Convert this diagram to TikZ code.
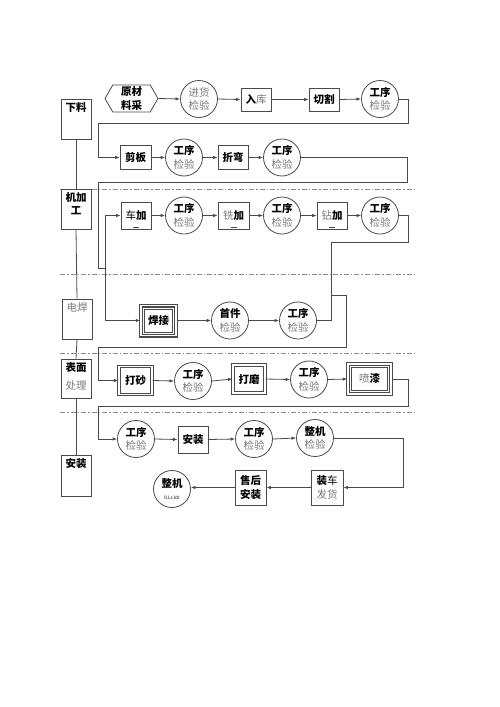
\documentclass[tikz,border=0pt]{standalone}
\usepackage{fontspec}
\setmainfont{Noto Sans CJK SC}
\usetikzlibrary{arrows.meta,shapes.symbols}
\definecolor{lncol}{HTML}{4A4A4A}
\definecolor{txgray}{HTML}{7A7A7A}
\definecolor{dashcol}{HTML}{8C8C8C}
\newcommand\gtx[1]{\textcolor{txgray}{#1}}
\newcommand\btx[1]{\textbf{#1}}
\begin{document}
\begin{tikzpicture}[x=1pt,y=-1pt,
  every node/.style={font=\fontsize{10.5}{13.5}\selectfont, align=center, inner sep=0pt},
  ln/.style={draw=lncol, line width=0.8pt},
  arr/.style={ln, -{Latex[length=4.5pt,width=3.5pt]}},
  box/.style={ln, rectangle, fill=white, minimum width=30pt, minimum height=24pt},
  circ/.style={ln, circle, fill=white, minimum size=37pt},
  lbox/.style={ln, rectangle, fill=white, minimum width=30pt, minimum height=40pt},
  lbl/.style={anchor=north, yshift=-3.5pt},
  sep/.style={draw=dashcol, line width=0.8pt, dash pattern=on 5pt off 2pt on 1.5pt off 2pt},
  dblbox/.style={box, line width=1.1pt, double=white, double distance=1.1pt},
  trpbox/.style={box, line width=1.4pt, double=white, double distance=1.2pt},
  inner/.style={draw=lncol, line width=0.6pt},
]
\useasboundingbox (0,0) rectangle (500,707);

% separators
\draw[sep] (60,189) -- (415,189);
\draw[sep] (60,274.5) -- (415,274.5);
\draw[sep] (60,353) -- (415,353);
\draw[sep] (60,412.5) -- (415,412.5);

% left column
\node[lbox, label={[lbl]north:\btx{下料}}] (L1) at (76,119) {};
\node[lbox, label={[lbl]north:{\btx{机加}\\\btx{工}}}] (L2) at (76,209) {};
\node[lbox, label={[lbl]north:\gtx{电焊}}] (L3) at (77,319) {};
\node[lbox, minimum height=39pt, label={[lbl]north:{\btx{表面}\\[5pt]\gtx{处理}}}] (L4) at (76,378.5) {};
\node[lbox, minimum height=41pt, label={[lbl]north:\btx{安装}}] (L5) at (76,475.5) {};
\draw[ln] (L1.south) -- (L2.north);
\draw[ln] (L2.south) -- (L3.north);
\draw[ln] (L3.south) -- (L4.north);
\draw[ln] (L4.south) -- (L5.north);

% row 1
\node[ln, signal, signal to=west and east, signal pointer angle=120, minimum width=53pt, minimum height=27pt, fill=white] (A1) at (131.5,98.5) {\btx{原材}\\\btx{料采}};
\node[circ] (C1) at (199,99) {\gtx{进货}\\\gtx{检验}};
\node[box, minimum height=23pt] (B1) at (256,99.5) {\btx{入}\gtx{库}};
\node[box, minimum height=23pt] (B2) at (324,99.5) {\btx{切割}};
\node[circ] (C2) at (380,99) {\btx{工序}\\\gtx{检验}};

% row 2
\node[box, minimum width=31pt] (B3) at (135.5,157.5) {\btx{剪板}};
\node[circ] (C3) at (184,157.5) {\btx{工序}\\\gtx{检验}};
\node[box] (B4) at (233,157.5) {\btx{折弯}};
\node[circ] (C4) at (282,157.5) {\btx{工序}\\\gtx{检验}};

% row 3
\node[box, minimum height=27pt] (B5) at (136,215.5) {车\btx{加}};
\node[circ] (C5) at (184,215.5) {\btx{工序}\\\gtx{检验}};
\node[box, minimum height=27pt, minimum width=31pt] (B6) at (233.5,215.5) {\gtx{铣}\btx{加}};
\node[circ] (C6) at (282,215.5) {\btx{工序}\\\gtx{检验}};
\node[box, minimum height=27pt] (B7) at (332,215.5) {\gtx{钻}\btx{加}};
\node[circ] (C7) at (380,215.5) {\btx{工序}\\\gtx{检验}};
\foreach \b in {B5,B6,B7}{
  \draw[lncol, line width=1pt] ([shift={(-3pt,1.8pt)}]\b.south) -- ([shift={(3pt,1.8pt)}]\b.south);
}

% row 4
\node[trpbox, minimum width=35pt, minimum height=30pt] (B8) at (158.5,320.5) {\btx{焊接}};
\draw[inner] ([shift={(4pt,4pt)}]B8.south west) rectangle ([shift={(-4pt,-4pt)}]B8.north east);
\node[circ] (C8) at (230,320.5) {\btx{首件}\\\gtx{检验}};
\node[circ] (C9) at (298,320.5) {\btx{工序}\\\gtx{检验}};

% row 5
\node[dblbox, minimum width=33pt, minimum height=28pt] (B9) at (135.5,380.5) {\btx{打砂}};
\node[circ] (C10) at (193,381) {\btx{工序}\\\gtx{检验}};
\node[dblbox, minimum width=32pt, minimum height=28pt] (B10) at (249,379) {\btx{打磨}};
\node[circ] (C11) at (309,379.5) {\btx{工序}\\\gtx{检验}};
\node[trpbox, minimum width=43pt, minimum height=30pt] (B11) at (369.5,379) {\gtx{喷}\btx{漆}};
\draw[inner] ([shift={(4pt,4pt)}]B11.south west) rectangle ([shift={(-4pt,-4pt)}]B11.north east);

% row 6
\node[circ] (C12) at (136,439) {\btx{工序}\\\gtx{检验}};
\node[box, minimum height=27pt] (B12) at (193,439.5) {\btx{安装}};
\node[circ] (C13) at (254,439) {\btx{工序}\\\gtx{检验}};
\node[circ] (C14) at (315,438) {\btx{整机}\\\gtx{检验}};

% row 7
\node[box, minimum width=32pt, minimum height=35pt] (B13) at (327,487.5) {\btx{装}车\\\gtx{发货}};
\node[box, minimum width=31pt, minimum height=35pt] (B14) at (250.5,487.5) {\btx{售后}\\\btx{安装}};
\node[circ] (C15) at (172,489) {\btx{整机}\\[-1pt]{\fontsize{4.5}{5}\selectfont ll.Ls ldr}};

% straight arrows
\draw[arr] (A1.east) -- (C1.west);
\draw[arr] (C1.east) -- (B1.west);
\draw[arr] (B1.east) -- (B2.west);
\draw[arr] (B2.east) -- (C2.west);
\draw[arr] (B3.east) -- (C3.west);
\draw[arr] (C3.east) -- (B4.west);
\draw[arr] (B4.east) -- (C4.west);
\draw[arr] (B5.east) -- (C5.west);
\draw[arr] (C5.east) -- (B6.west);
\draw[arr] (B6.east) -- (C6.west);
\draw[arr] (C6.east) -- (B7.west);
\draw[arr] (B7.east) -- (C7.west);
\draw[arr] (B8.east) -- (C8.west);
\draw[arr] (C8.east) -- (C9.west);
\draw[arr] (B9.east) -- (C10.west);
\draw[arr] (C10.east) -- (B10.west);
\draw[arr] (B10.east) -- (C11.west);
\draw[arr] (C11.east) -- (B11.west);
\draw[arr] (C12.east) -- (B12.west);
\draw[arr] (B12.east) -- (C13.west);
\draw[arr] (C13.east) -- (C14.west);
\draw[arr] (B13.west) -- (B14.east);
\draw[arr] (B14.west) -- (C15.east |- B14.west);

% routed connectors
\draw[arr] (C2.east) -| (408,123) -| (98,157.5) -- (B3.west);
\draw[ln] (C4.east) -| (407,182) -| (98,268) -- (105,268) coordinate (J1);
\draw[arr] (J1) |- (B5.west);
\draw[arr] (J1) |- (B8.west);
\draw[ln] (C7.east) -| (408,242) -| (331,320.5) -- (C9.east);
\draw[arr] (331,295) -| (346,347) -| (98,380.5) -- (B9.west);
\draw[arr] (B11.east) -| (408,406) -| (98,439) -- (C12.west);
\draw[arr] (C14.east) -| (403,487.5) -- (B13.east);
\end{tikzpicture}
\end{document}
